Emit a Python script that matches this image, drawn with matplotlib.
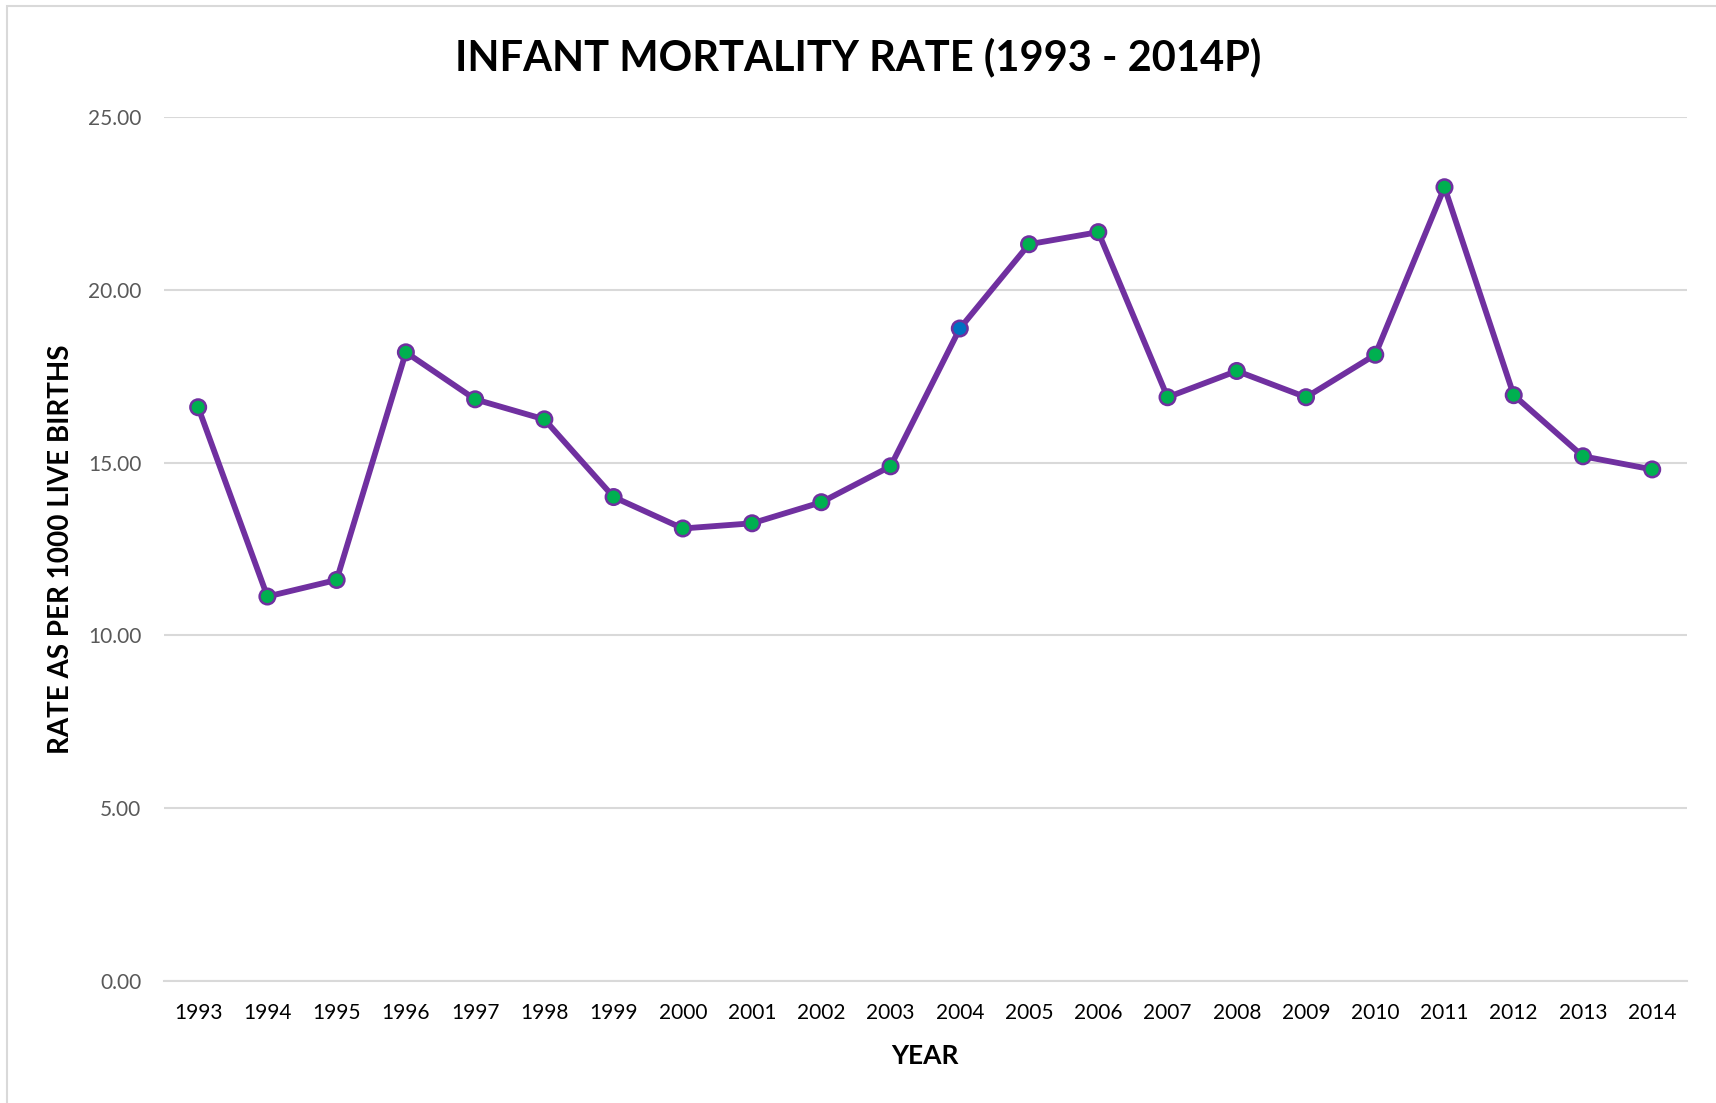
import matplotlib.pyplot as plt
from matplotlib.patches import Rectangle

# data
years = ["1993", "1994", "1995", "1996", "1997", "1998", "1999", "2000", "2001", "2002", "2003",
         "2004", "2005", "2006", "2007", "2008", "2009", "2010", "2011", "2012", "2013", "2014"]
rate = [16.60, 11.12, 11.60, 18.19, 16.83, 16.25, 14.00, 13.09, 13.24, 13.85, 14.89,
        18.88, 21.32, 21.67, 16.89, 17.65, 16.89, 18.12, 22.97, 16.95, 15.18, 14.80]
highlight = "2004"
yticks = [0, 5, 10, 15, 20, 25]

plt.rcParams['font.family'] = ['Lato', 'DejaVu Sans']

fig = plt.figure(figsize=(17.16, 11.03), dpi=100)
ax = fig.add_axes([0.0953, 0.111, 0.8877, 0.7828])

x = list(range(len(years)))
ax.plot(x, rate, color="#7030A0", linewidth=4.2, zorder=3)
colors = ["#0070C0" if y == highlight else "#00B050" for y in years]
ax.scatter(x, rate, s=125, c=colors, edgecolors="#7030A0", linewidths=1.8, zorder=4)

ax.set_xlim(-0.5, len(years) - 0.5)
ax.set_ylim(0, 25)
ax.set_yticks(yticks)
ax.set_yticklabels([f"{v:.2f}" for v in yticks])
ax.set_xticks(x)
ax.set_xticklabels(years)

ax.grid(axis="y", color="#D9D9D9", linewidth=1.5)
ax.set_axisbelow(True)
for s in ["top", "right", "left"]:
    ax.spines[s].set_visible(False)
ax.spines["bottom"].set_color("#D9D9D9")
ax.spines["bottom"].set_linewidth(1.5)
ax.tick_params(axis="both", length=0)
ax.tick_params(axis="y", labelsize=15, labelcolor="#595959", pad=16)
ax.tick_params(axis="x", labelsize=15, labelcolor="#000000", pad=16)

ax.set_xlabel("YEAR", fontsize=19, fontweight="bold", labelpad=15)
ax.set_ylabel("RATE AS PER 1000 LIVE BIRTHS", fontsize=20, fontweight="bold", labelpad=10)

fig.text(0.5, 0.948, "INFANT MORTALITY RATE (1993 - 2014P)", ha="center", va="center",
         fontsize=30, fontweight="bold")

# outer chart border
fig.patches.append(Rectangle((0.004, -0.01), 1.0, 1.005, transform=fig.transFigure,
                             fill=False, edgecolor="#D9D9D9", linewidth=1.5))

fig.savefig("out.png", dpi=100)
